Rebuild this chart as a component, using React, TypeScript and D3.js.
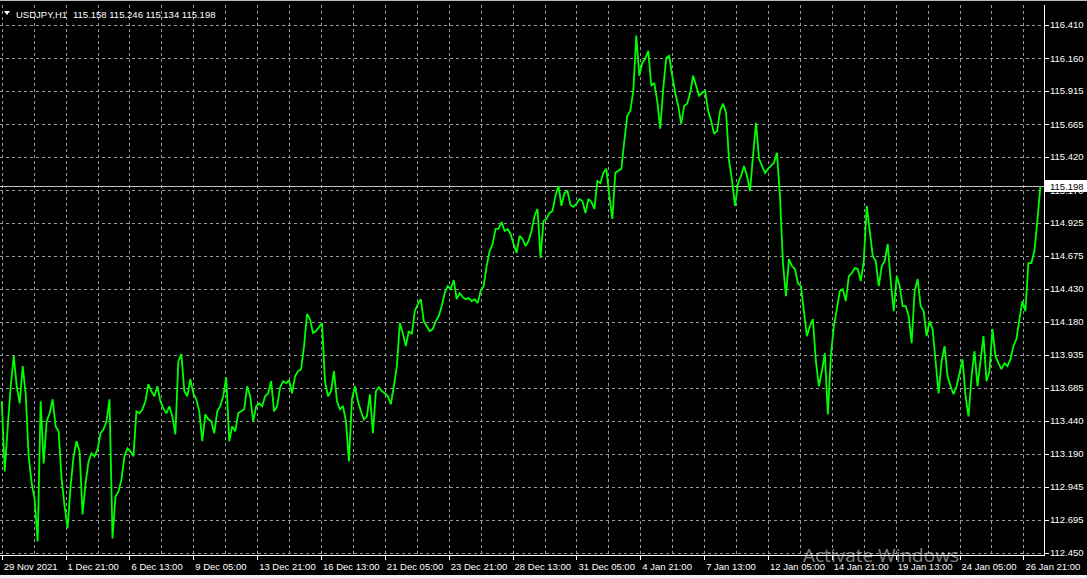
import React, { useEffect } from "react";
import * as d3 from "d3";

// ---------- data ----------
const symbolLabel = "USDJPY,H1";
const ohlcLabels = ["115.158", "115.246", "115.134", "115.198"];
const lastPrice = 115.198;

const priceTicks = [
  116.41, 116.16, 115.915, 115.665, 115.42, 115.17, 114.925, 114.675, 114.43,
  114.18, 113.935, 113.685, 113.44, 113.19, 112.945, 112.695, 112.45,
];

const timeLabels = [
  "29 Nov 2021", "1 Dec 21:00", "6 Dec 13:00", "9 Dec 05:00", "13 Dec 21:00",
  "16 Dec 13:00", "21 Dec 05:00", "23 Dec 21:00", "28 Dec 13:00", "31 Dec 05:00",
  "4 Jan 21:00", "7 Jan 13:00", "12 Jan 05:00", "14 Jan 21:00", "19 Jan 13:00",
  "24 Jan 05:00", "26 Jan 21:00",
];
const barsPerTimeLabel = 64; // H1 bars between labels
const barsPerGridLine = 32;
const barsPerSample = 3; // closes below are sampled every 3 hourly bars

const closes = [
  113.585, 113.059, 113.397, 113.698, 113.924, 113.698, 113.570, 113.849, 113.638, 113.172,
  112.969, 112.849, 112.533, 113.585, 113.119, 113.435, 113.495, 113.600, 113.397, 113.360,
  112.999, 112.796, 112.631, 112.946, 113.172, 113.285, 113.209, 112.736, 112.969, 113.134,
  113.194, 113.172, 113.224, 113.345, 113.375, 113.435, 113.600, 112.556, 112.871, 112.909,
  112.999, 113.172, 113.232, 113.209, 113.172, 113.510, 113.495, 113.525, 113.585, 113.713,
  113.660, 113.623, 113.698, 113.585, 113.532, 113.495, 113.548, 113.472, 113.337, 113.886,
  113.939, 113.660, 113.623, 113.751, 113.645, 113.600, 113.510, 113.285, 113.487, 113.450,
  113.435, 113.345, 113.510, 113.548, 113.623, 113.766, 113.285, 113.397, 113.360, 113.495,
  113.510, 113.525, 113.698, 113.623, 113.435, 113.548, 113.570, 113.548, 113.623, 113.645,
  113.736, 113.510, 113.548, 113.690, 113.736, 113.721, 113.743, 113.645, 113.773, 113.811,
  113.826, 113.999, 114.240, 114.202, 114.097, 114.112, 114.142, 114.172, 113.736, 113.623,
  113.660, 113.811, 113.585, 113.525, 113.548, 113.435, 113.134, 113.600, 113.698, 113.585,
  113.510, 113.450, 113.472, 113.638, 113.345, 113.660, 113.690, 113.660, 113.645, 113.623,
  113.563, 113.698, 113.849, 114.172, 114.097, 113.999, 114.112, 114.089, 114.262, 114.315,
  114.352, 114.187, 114.149, 114.112, 114.127, 114.187, 114.225, 114.300, 114.397, 114.450,
  114.427, 114.495, 114.352, 114.397, 114.367, 114.352, 114.360, 114.337, 114.352, 114.322,
  114.412, 114.450, 114.600, 114.713, 114.766, 114.879, 114.879, 114.931, 114.864, 114.879,
  114.841, 114.766, 114.698, 114.826, 114.804, 114.751, 114.788, 114.864, 114.976, 115.029,
  114.661, 114.939, 114.954, 114.999, 115.014, 115.127, 115.202, 115.052, 115.149, 115.164,
  115.059, 115.044, 115.067, 115.104, 115.089, 114.999, 115.104, 115.082, 115.029, 115.239,
  115.224, 115.300, 115.330, 115.127, 114.954, 115.300, 115.315, 115.330, 115.540, 115.728,
  115.766, 115.916, 116.330, 116.029, 116.127, 116.157, 116.217, 115.954, 115.976, 115.841,
  115.631, 115.931, 116.164, 116.179, 116.029, 115.901, 115.804, 115.668, 115.804, 115.819,
  115.901, 116.029, 115.954, 115.879, 115.901, 115.916, 115.766, 115.691, 115.593, 115.615,
  115.766, 115.819, 115.751, 115.390, 115.239, 115.052, 115.224, 115.277, 115.352, 115.277,
  115.164, 115.427, 115.676, 115.405, 115.352, 115.300, 115.330, 115.352, 115.375, 115.450,
  115.127, 114.623, 114.375, 114.653, 114.600, 114.578, 114.473, 114.450, 114.262, 114.074,
  114.149, 114.202, 113.886, 113.698, 113.811, 113.946, 113.487, 113.924, 114.149, 114.277,
  114.412, 114.427, 114.337, 114.525, 114.548, 114.585, 114.578, 114.488, 114.638, 115.052,
  114.864, 114.676, 114.638, 114.450, 114.600, 114.638, 114.766, 114.488, 114.262, 114.525,
  114.450, 114.300, 114.300, 114.225, 114.022, 114.412, 114.503, 114.300, 114.262, 114.074,
  114.187, 114.127, 113.886, 113.645, 113.886, 113.999, 113.773, 113.698, 113.638, 113.698,
  113.796, 113.901, 113.623, 113.472, 113.773, 113.961, 113.698, 113.886, 114.074, 113.736,
  113.811, 114.127, 113.924, 113.871, 113.826, 113.871, 113.849, 113.901, 113.999, 114.052,
  114.202, 114.337, 114.262, 114.623, 114.623, 114.713, 114.939, 115.198,
];

// ---------- layout ----------
const W = 1087;
const H = 578;
const plotRight = 1044.5;
const plotTop = 5;
const plotBottom = 555.5;
const FONT = "'Liberation Sans', Arial, sans-serif";
const FS = 9.5;

export default function App() {
  useEffect(() => {
    document.body.style.margin = "0";
  }, []);

  const x = d3.scaleLinear().domain([0, 1024]).range([1.75, 1023.4]);
  const y = d3.scaleLinear().domain([112.45, 116.41]).range([552.5, 25]);

  const line = d3
    .line<number>()
    .x((_, i) => x(i * barsPerSample))
    .y((d) => y(d));

  const lastBar = (closes.length - 1) * barsPerSample;
  const gridBars = d3.range(0, lastBar + barsPerGridLine, barsPerGridLine).filter((b) => x(b) < plotRight - 2);
  const labelBars = timeLabels.map((_, i) => i * barsPerTimeLabel);
  const yLast = Math.round(y(lastPrice)) + 0.5;

  return (
    <div style={{ position: "fixed", left: 0, top: 0, width: W, height: H }}>
      <svg width={W} height={H} style={{ display: "block", background: "#000" }}>
        <rect x={0} y={0} width={W} height={H} fill="#000" />
        <line x1={0} x2={W} y1={0.5} y2={0.5} stroke="#bdbdbd" />

        {/* grid */}
        <g stroke="#9a9a9a" strokeWidth={1} strokeDasharray="3,3" shapeRendering="crispEdges">
          {priceTicks.map((p) => (
            <line key={"h" + p} x1={0} x2={plotRight} y1={Math.round(y(p)) + 0.5} y2={Math.round(y(p)) + 0.5} />
          ))}
          {gridBars.map((b) => (
            <line key={"v" + b} x1={Math.round(x(b)) + 0.5} x2={Math.round(x(b)) + 0.5} y1={plotTop} y2={plotBottom} />
          ))}
        </g>

        {/* last price line */}
        <line x1={0} x2={plotRight} y1={yLast} y2={yLast} stroke="#c0c0c0" strokeWidth={1} shapeRendering="crispEdges" />

        {/* price line */}
        <path d={line(closes) || ""} fill="none" stroke="#00ff00" strokeWidth={1.8} strokeLinejoin="miter" strokeMiterlimit={2} />

        {/* frame */}
        <g stroke="#ffffff" strokeWidth={1} shapeRendering="crispEdges">
          <line x1={plotRight} x2={plotRight} y1={plotTop} y2={plotBottom} />
          <line x1={0} x2={plotRight} y1={plotBottom} y2={plotBottom} />
          {priceTicks.map((p) => (
            <line key={"yt" + p} x1={plotRight} x2={plotRight + 4} y1={Math.round(y(p)) + 0.5} y2={Math.round(y(p)) + 0.5} />
          ))}
          {labelBars.map((b) => (
            <line key={"xt" + b} x1={Math.round(x(b)) + 0.5} x2={Math.round(x(b)) + 0.5} y1={plotBottom} y2={plotBottom + 4} />
          ))}
        </g>

        {/* y labels */}
        <g fill="#ffffff" fontFamily={FONT} fontSize={FS}>
          {priceTicks.map((p) => (
            <text key={"yl" + p} x={1050} y={y(p)} dy="0.35em">
              {p.toFixed(3)}
            </text>
          ))}
        </g>

        {/* last price box */}
        <rect x={plotRight + 0.5} y={yLast - 6.5} width={W - plotRight} height={12} fill="#ffffff" />
        <text x={1050} y={yLast} dy="0.35em" fill="#000" fontFamily={FONT} fontSize={FS}>
          {lastPrice.toFixed(3)}
        </text>

        {/* x labels */}
        <g fill="#ffffff" fontFamily={FONT} fontSize={FS}>
          {timeLabels.map((t, i) => (
            <text key={t} x={x(labelBars[i]) + 2} y={570}>
              {t}
            </text>
          ))}
        </g>

        {/* title */}
        <path d="M4,11 L10,11 L7,15 Z" fill="#ffffff" />
        <g fill="#ffffff" fontFamily={FONT} fontSize={FS}>
          <text x={16} y={17.5}>{symbolLabel}</text>
          <text x={73} y={17.5}>{ohlcLabels.join(" ")}</text>
        </g>

        {/* window strip and OS watermark */}
        <rect x={0} y={575} width={W} height={H - 575} fill="#f0f0f0" />
        <g fill="#ffffff" fillOpacity={0.5} fontFamily="'Open Sans', 'Noto Sans', sans-serif">
          <text x={803} y={562} fontSize={19}>Activate Windows</text>
          <text x={803} y={585} fontSize={13}>Go to Settings to activate Windows.</text>
        </g>
      </svg>
    </div>
  );
}
